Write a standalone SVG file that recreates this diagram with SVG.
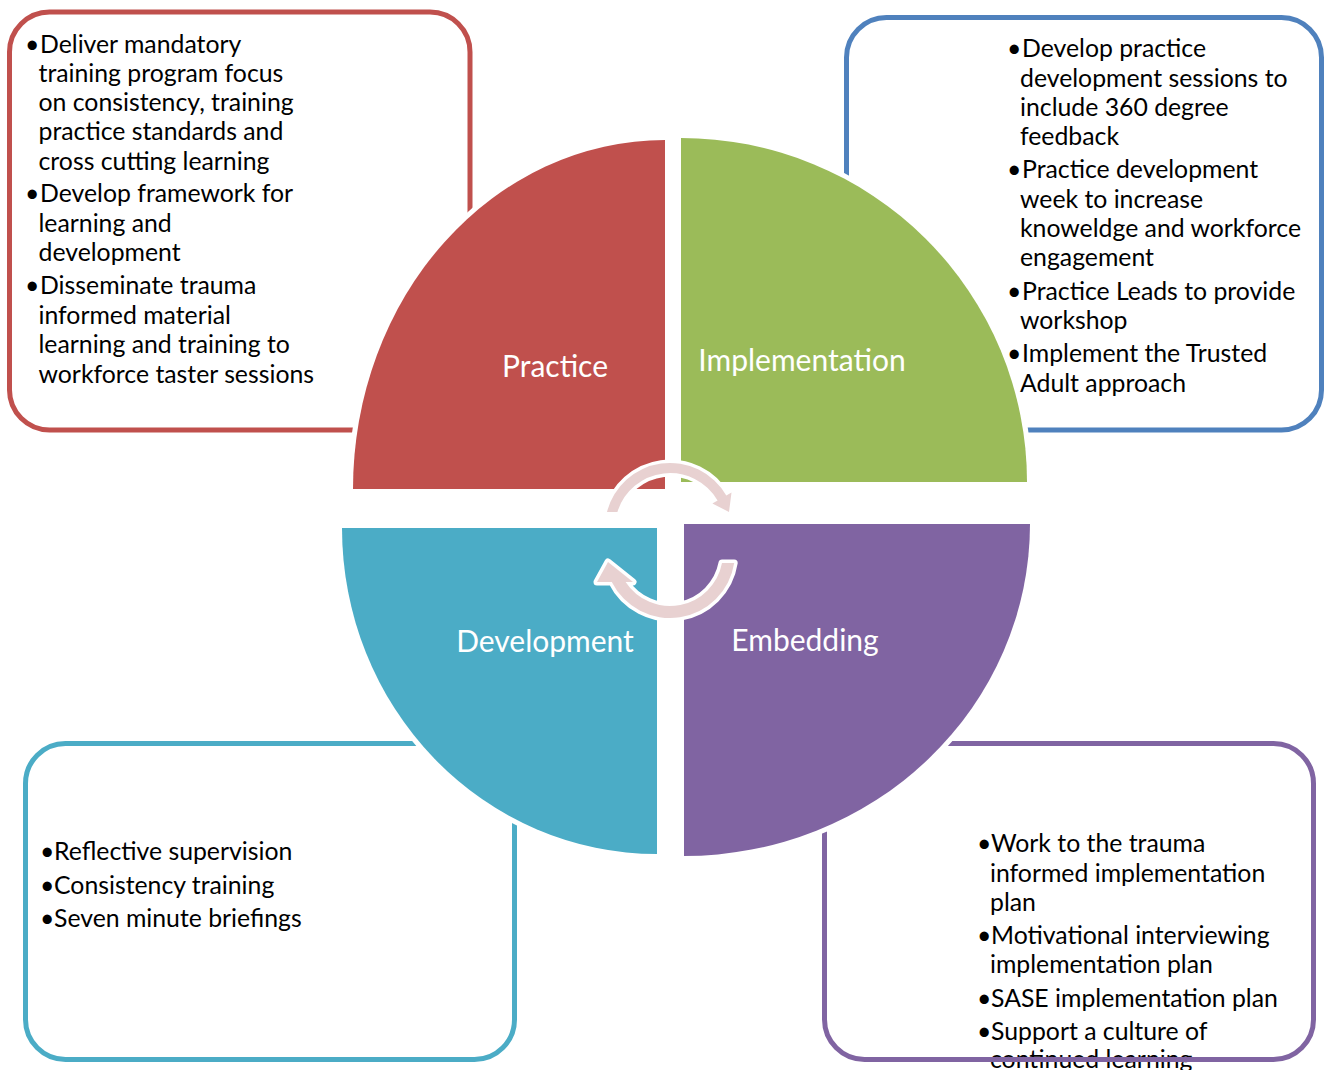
<svg xmlns="http://www.w3.org/2000/svg" width="1324" height="1070" viewBox="0 0 1324 1070">
<style>
.box{fill:none;stroke-width:5}
.q{stroke:#fff;stroke-width:10;paint-order:stroke}
.arr{fill:#E8D1D1;stroke:#fff;stroke-width:7;paint-order:stroke;stroke-linejoin:round}
.t{font-family:Lato,"Liberation Sans",sans-serif;font-size:24.8px;fill:#000}
.lbl{font-family:Lato,"Liberation Sans",sans-serif;font-size:30px;fill:#fff;text-anchor:middle}
</style>
<rect width="1324" height="1070" fill="#fff"/>
<g id="text-embedding" class="t">
<text x="977" y="852">•<tspan x="991">Work to the trauma</tspan></text>
<text x="990" y="882">informed implementation</text>
<text x="990" y="911">plan</text>
<text x="977" y="944">•<tspan x="991">Motivational interviewing</tspan></text>
<text x="990" y="973">implementation plan</text>
<text x="977" y="1007">•<tspan x="991">SASE implementation plan</tspan></text>
<text x="977" y="1040">•<tspan x="991">Support a culture of</tspan></text>
<text x="990" y="1068">continued learning</text>
</g>
<g id="box-practice">
<rect class="box" x="9.5" y="12" width="460.5" height="418" rx="40" stroke="#C0504D"/>
</g>
<g id="box-implementation">
<rect class="box" x="846.5" y="17.5" width="475" height="412.5" rx="40" stroke="#4F81BD"/>
</g>
<g id="box-development">
<rect class="box" x="25.5" y="743.5" width="489" height="316" rx="40" stroke="#4BACC6"/>
</g>
<g id="box-embedding">
<rect class="box" x="824.5" y="743.5" width="489" height="316" rx="40" stroke="#8064A2"/>
</g>
<g id="practice">
<path class="q" fill="#C0504D" d="M665 489 L353 489 A312 349 0 0 1 665 140 Z"/>
<text class="lbl" x="555" y="377">Practice</text>
</g>
<g id="implementation">
<path class="q" fill="#9BBB59" d="M681 482 L681 138 A346 344 0 0 1 1027 482 Z"/>
<text class="lbl" x="802" y="371">Implementation</text>
</g>
<g id="embedding">
<path class="q" fill="#8064A2" d="M684 524 L1030 524 A346 332 0 0 1 684 856 Z"/>
<text class="lbl" x="805" y="651">Embedding</text>
</g>
<g id="development">
<path class="q" fill="#4BACC6" d="M657 528 L657 854 A315 326 0 0 1 342 528 Z"/>
<text class="lbl" x="545" y="652">Development</text>
</g>
<g id="connectors">
<path class="arr" d="M607 512 A65 65 0 0 1 726.3 495.5 L731.5 492.5 L729 512 L712.4 503.5 L717.6 500.5 A55 55 0 0 0 617.4 512 Z"/>
<path class="arr" d="M734.2 563 A65 65 0 0 1 611.8 582 L597 582 L608 562 L633 582 L625.6 582 A53 53 0 0 0 722 563 Z"/>
</g>
<g id="text-practice" class="t">
<text x="25" y="53">•<tspan x="40">Deliver mandatory</tspan></text>
<text x="38.5" y="82">training program focus</text>
<text x="38.5" y="111">on consistency, training</text>
<text x="38.5" y="140">practice standards and</text>
<text x="38.5" y="170">cross cutting learning</text>
<text x="25" y="202">•<tspan x="40">Develop framework for</tspan></text>
<text x="38.5" y="232">learning and</text>
<text x="38.5" y="261">development</text>
<text x="25" y="294">•<tspan x="40">Disseminate trauma</tspan></text>
<text x="38.5" y="324">informed material</text>
<text x="38.5" y="353">learning and training to</text>
<text x="38.5" y="383">workforce taster sessions</text>
</g>
<g id="text-implementation" class="t">
<text x="1007" y="57">•<tspan x="1022">Develop practice</tspan></text>
<text x="1020" y="87">development sessions to</text>
<text x="1020" y="116">include 360 degree</text>
<text x="1020" y="145">feedback</text>
<text x="1007" y="178">•<tspan x="1022">Practice development</tspan></text>
<text x="1020" y="208">week to increase</text>
<text x="1020" y="237">knoweldge and workforce</text>
<text x="1020" y="266">engagement</text>
<text x="1007" y="300">•<tspan x="1022">Practice Leads to provide</tspan></text>
<text x="1020" y="329">workshop</text>
<text x="1007" y="362">•<tspan x="1022">Implement the Trusted</tspan></text>
<text x="1020" y="392">Adult approach</text>
</g>
<g id="text-development" class="t">
<text x="40" y="860">•<tspan x="54">Reflective supervision</tspan></text>
<text x="40" y="894">•<tspan x="54">Consistency training</tspan></text>
<text x="40" y="927">•<tspan x="54">Seven minute briefings</tspan></text>
</g>
</svg>
